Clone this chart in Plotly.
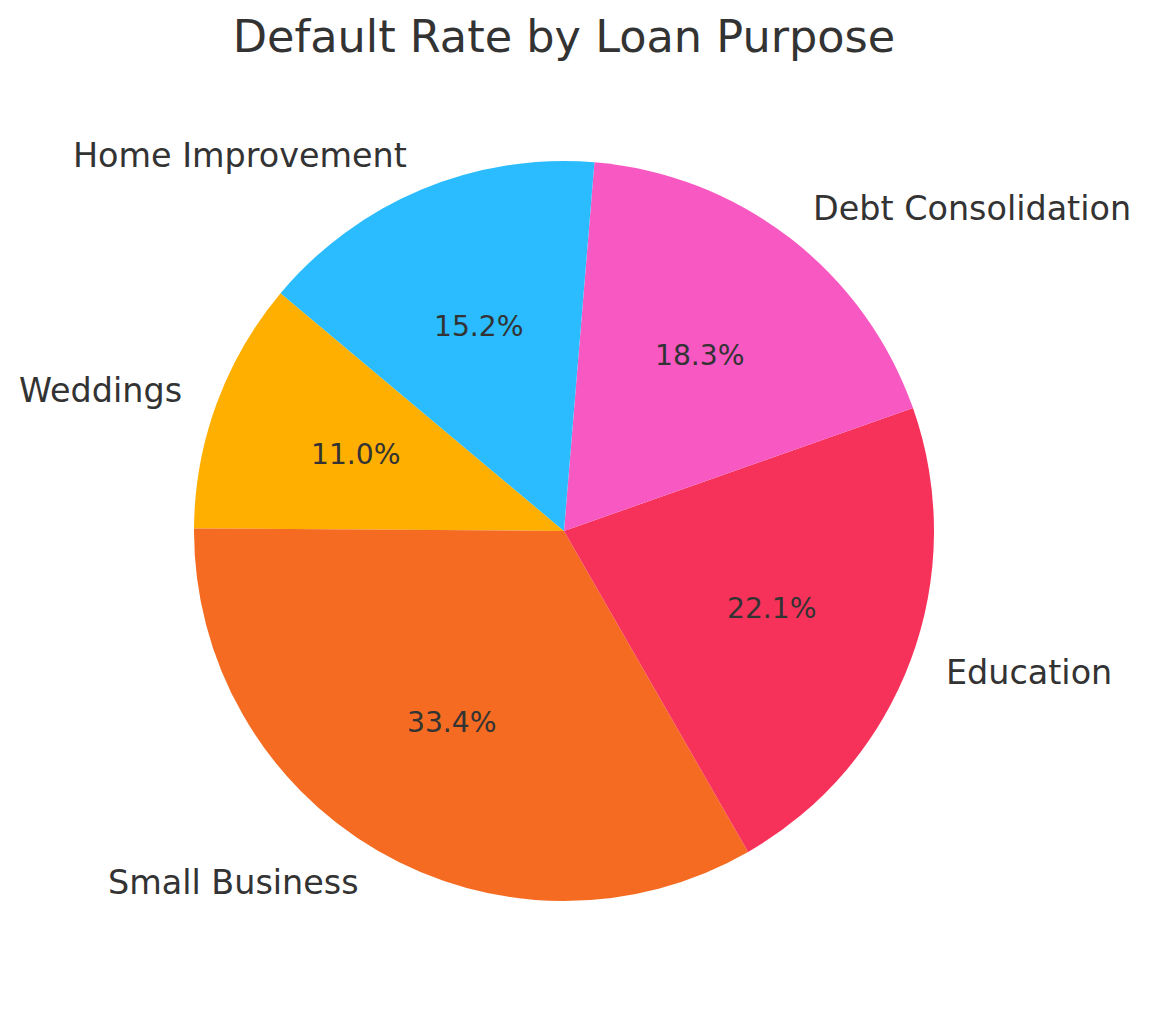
"""Pie chart: default rate by loan purpose."""

import math

import plotly.graph_objects as go

# data, in drawing order (counterclockwise from 140 deg)
purposes = ["Weddings", "Small Business", "Education", "Debt Consolidation", "Home Improvement"]
shares = [11.0, 33.4, 22.1, 18.3, 15.2]
colors = ["#FFAF00", "#F46B21", "#F7325A", "#F858C2", "#2ABCFE"]

PAGE_MARGIN = 8  # browser body margin around the plot div
W, H = 1151 - 2 * PAGE_MARGIN, 1014 - 2 * PAGE_MARGIN
CX, CY, R = 564 - PAGE_MARGIN, 531 - PAGE_MARGIN, 370  # pie centre / radius, px
START_ANGLE = 140  # degrees, counterclockwise from +x (matplotlib style)
TEXT = "#333333"
FONT = "DejaVu Sans"

total = sum(shares)

fig = go.Figure()
fig.add_trace(
    go.Pie(
        labels=purposes,
        values=shares,
        sort=False,
        direction="counterclockwise",
        # plotly puts the first ccw slice between rotation and rotation + span (cw from top)
        rotation=90 - START_ANGLE - 360 * shares[0] / total,
        marker=dict(colors=colors, line=dict(width=0)),
        textinfo="none",
        hoverinfo="label+percent",
        showlegend=False,
        domain=dict(
            x=[(CX - R) / W, (CX + R) / W],
            y=[(H - CY - R) / H, (H - CY + R) / H],
        ),
    )
)

# slice labels at 1.1 r and percentages at 0.6 r, like matplotlib
angle = START_ANGLE
annotations = []
for name, share in zip(purposes, shares):
    span = 360 * share / total
    mid = math.radians(angle + span / 2)
    angle += span
    c, s = math.cos(mid), math.sin(mid)
    annotations.append(
        dict(
            text=name,
            x=(CX + 1.1 * R * c) / W,
            y=(H - CY + 1.1 * R * s) / H,
            xanchor="left" if c > 0 else "right",
            yanchor="middle",
            font=dict(size=33.4, color=TEXT, family=FONT),
        )
    )
    annotations.append(
        dict(
            text=f"{100 * share / total:.1f}%",
            x=(CX + 0.6 * R * c) / W,
            y=(H - CY + 0.6 * R * s) / H,
            xanchor="center",
            yanchor="middle",
            font=dict(size=28.2, color=TEXT, family=FONT),
        )
    )
for a in annotations:
    a.update(xref="paper", yref="paper", showarrow=False, borderpad=0, borderwidth=0)

fig.update_layout(
    width=W,
    height=H,
    margin=dict(l=0, r=0, t=0, b=0),
    paper_bgcolor="white",
    plot_bgcolor="white",
    font=dict(family=FONT, color=TEXT),
    title=dict(
        text="Default Rate by Loan Purpose",
        x=CX / W,
        xanchor="center",
        y=1 - (36 - PAGE_MARGIN) / H,
        yanchor="middle",
        font=dict(size=44.6, color=TEXT, family=FONT),
    ),
    annotations=annotations,
)

fig.write_html("out.html")
